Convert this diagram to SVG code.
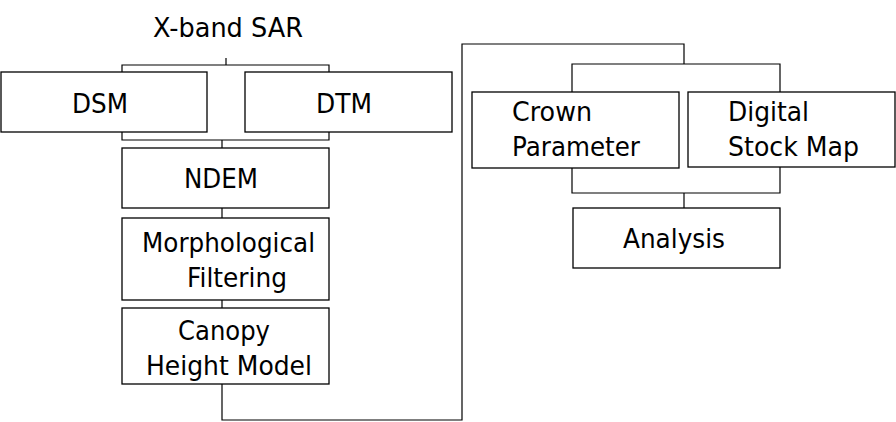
<svg xmlns="http://www.w3.org/2000/svg" width="896" height="422" viewBox="0 0 896 422">
<style>
.box{fill:#fff;stroke:#000;stroke-width:1.3}
.ln{fill:none;stroke:#000;stroke-width:1.2}
text{font-family:"DejaVu Sans","Liberation Sans",sans-serif;font-size:27px;fill:#000}
</style>
<rect width="896" height="422" fill="#fff"/>
<g id="connectors">
<polyline class="ln" points="226,58 226,65"/>
<polyline class="ln" points="122,72 122,65 329,65 329,72"/>
<polyline class="ln" points="122,132 122,140 329,140 329,132"/>
<polyline class="ln" points="222,140 222,148"/>
<polyline class="ln" points="222,208 222,218"/>
<polyline class="ln" points="222,300 222,308"/>
<polyline class="ln" points="222,384 222,420 462,420 462,44 684,44 684,64"/>
<polyline class="ln" points="572,92 572,64 780,64 780,92"/>
<polyline class="ln" points="572,168 572,193 780,193 780,167"/>
<polyline class="ln" points="684,193 684,208"/>
</g>
<g id="xband"><text x="153" y="37" textLength="150" lengthAdjust="spacingAndGlyphs">X-band SAR</text></g>
<g id="dsm"><rect class="box" x="1" y="72" width="206" height="60"/><text x="72" y="113" textLength="56" lengthAdjust="spacingAndGlyphs">DSM</text></g>
<g id="dtm"><rect class="box" x="245" y="72" width="207" height="60"/><text x="316" y="113" textLength="56" lengthAdjust="spacingAndGlyphs">DTM</text></g>
<g id="ndem"><rect class="box" x="122" y="148" width="207" height="60"/><text x="184" y="188" textLength="74" lengthAdjust="spacingAndGlyphs">NDEM</text></g>
<g id="morph"><rect class="box" x="122" y="218" width="207" height="82"/><text x="142" y="252" textLength="173" lengthAdjust="spacingAndGlyphs">Morphological</text><text x="187" y="287" textLength="100" lengthAdjust="spacingAndGlyphs">Filtering</text></g>
<g id="chm"><rect class="box" x="122" y="308" width="207" height="76"/><text x="178" y="340" textLength="92" lengthAdjust="spacingAndGlyphs">Canopy</text><text x="146" y="375" textLength="166" lengthAdjust="spacingAndGlyphs">Height Model</text></g>
<g id="crown"><rect class="box" x="472" y="92" width="207" height="76"/><text x="512" y="121" textLength="80" lengthAdjust="spacingAndGlyphs">Crown</text><text x="512" y="156" textLength="128" lengthAdjust="spacingAndGlyphs">Parameter</text></g>
<g id="stock"><rect class="box" x="688" y="92" width="207" height="75"/><text x="728" y="121" textLength="81" lengthAdjust="spacingAndGlyphs">Digital</text><text x="728" y="156" textLength="131" lengthAdjust="spacingAndGlyphs">Stock Map</text></g>
<g id="analysis"><rect class="box" x="573" y="208" width="207" height="60"/><text x="623" y="248" textLength="102" lengthAdjust="spacingAndGlyphs">Analysis</text></g>
</svg>
